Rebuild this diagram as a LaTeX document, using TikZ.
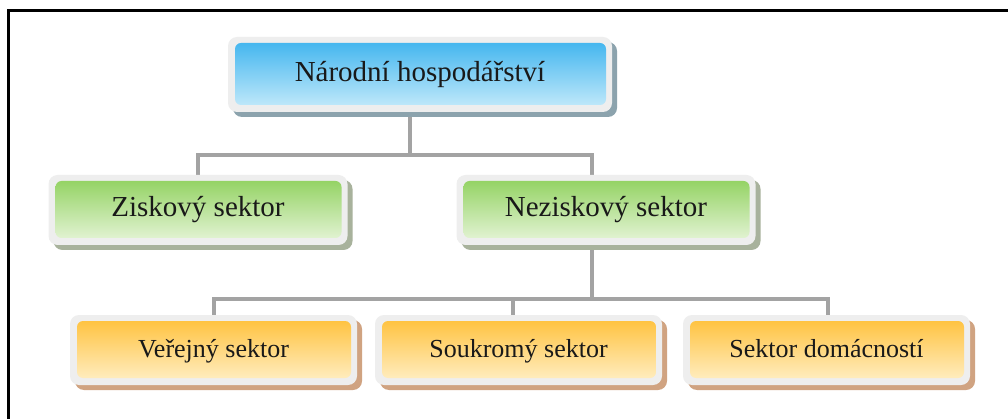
\documentclass[tikz,border=0pt]{standalone}
\usepackage{fontspec}
\setmainfont{Liberation Serif}
\usetikzlibrary{shadows,backgrounds}

\definecolor{rim}{HTML}{EEEEEE}
\definecolor{linkgray}{HTML}{A3A3A3}
\definecolor{blueTop}{HTML}{3AB2EE}
\definecolor{blueBot}{HTML}{CBEDFB}
\definecolor{blueShadow}{HTML}{8CA3AD}
\definecolor{greenTop}{HTML}{8DD05A}
\definecolor{greenBot}{HTML}{EAF6DE}
\definecolor{greenShadow}{HTML}{A8B29C}
\definecolor{orangeTop}{HTML}{FFBF35}
\definecolor{orangeBot}{HTML}{FFF1CC}
\definecolor{orangeShadow}{HTML}{D0A381}

\tikzset{
  card/.style n args={3}{
    fill=rim, draw=none, rounded corners=9pt, inner sep=0pt,
    text=black!90, text height=20pt, text depth=6pt,
    drop shadow={shadow xshift=5pt, shadow yshift=-5pt, fill=#3, opacity=1},
    path picture={
      \shade[top color=#1, bottom color=#2, rounded corners=6pt]
        ([shift={(7pt,-6pt)}]path picture bounding box.north west)
        rectangle ([shift={(-6pt,7pt)}]path picture bounding box.south east);
    }
  },
  bluecard/.style={card={blueTop}{blueBot}{blueShadow},
    minimum width=384pt, minimum height=75pt, font=\fontsize{29}{34}\selectfont},
  greencard/.style={card={greenTop}{greenBot}{greenShadow},
    minimum width=299pt, minimum height=70pt, font=\fontsize{29}{34}\selectfont},
  orangecard/.style={card={orangeTop}{orangeBot}{orangeShadow},
    minimum width=287pt, minimum height=70pt, font=\fontsize{26}{31}\selectfont},
  link/.style={draw=linkgray, line width=4pt}
}

\begin{document}
\begin{tikzpicture}[x=1pt, y=-1pt]
  \useasboundingbox (0,0) rectangle (1008,419);

  % outer frame (only the top and left edges fall inside the page)
  \draw[line width=3pt, black] (8.5,430) -- (8.5,10.5) -- (1020,10.5);

  % organisational chart boxes
  \node[bluecard]   (nh)   at (420,74.5) {Národní hospodářství};
  \node[greencard]  (zs)   at (198,210)  {Ziskový sektor};
  \node[greencard]  (ns)   at (606,210)  {Neziskový sektor};
  \node[orangecard] (vs)   at (213.5,350) {Veřejný sektor};
  \node[orangecard] (ss)   at (518.5,350) {Soukromý sektor};
  \node[orangecard] (sd)   at (826.5,350) {Sektor domácností};

  % junction points of the tree
  \coordinate (busA) at (410,155);
  \coordinate (nsIn) at (592,175);
  \coordinate (busB) at (592,299);
  \coordinate (ssIn) at (513,315);
  \coordinate (sdIn) at (828,315);

  \begin{scope}[on background layer]
    \fill[white] (0,0) rectangle (1008,419);
    \draw[link] (busA |- nh.south) -- (busA);
    \draw[link] (zs.north) |- (busA) -| (nsIn);
    \draw[link] (busB |- ns.south) -- (busB);
    \draw[link] (vs.north) |- (busB) -| (sdIn);
    \draw[link] (ssIn) -- (ssIn |- busB);
  \end{scope}
\end{tikzpicture}
\end{document}
